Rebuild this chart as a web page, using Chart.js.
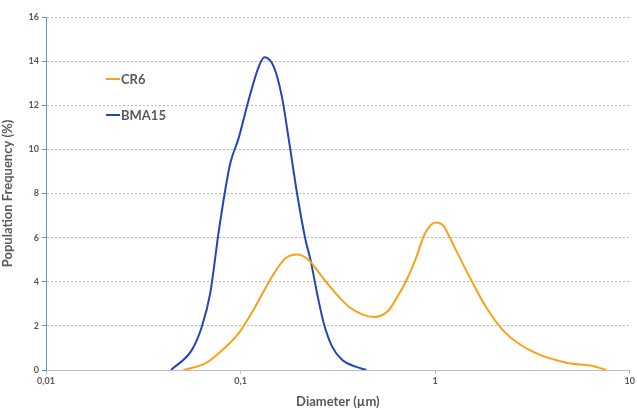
<!DOCTYPE html>
<html>
<head>
<meta charset="utf-8">
<script src="https://cdn.jsdelivr.net/npm/chart.js@4"></script>
<style>
  html, body { margin: 0; padding: 0; background: #fff; }
  #wrap { width: 637px; height: 410px; }
</style>
</head>
<body>
<div id="wrap"><canvas id="psd"></canvas></div>
<script>
// Particle size distribution data
const seriesNames = ['CR6', 'BMA15'];
const seriesColors = ['#F7A21B', '#2345B8'];

const cr6Diameter = [0.0508, 0.0658, 0.077, 0.0976, 0.119, 0.145, 0.17, 0.195, 0.224, 0.262, 0.308, 0.36, 0.422, 0.485, 0.579, 0.639, 0.706, 0.796, 0.878, 0.95, 1.008, 1.112, 1.18, 1.5, 1.82, 2.31, 3.17, 4.72, 6.47, 7.59];
const cr6Freq     = [0, 0.3, 0.75, 1.66, 2.87, 4.23, 5.06, 5.24, 4.99, 4.23, 3.47, 2.87, 2.52, 2.4, 2.72, 3.32, 4.0, 5.06, 6.12, 6.57, 6.68, 6.5, 6.05, 4.23, 2.87, 1.66, 0.83, 0.33, 0.18, 0];

const bmaDiameter = [0.0439, 0.0561, 0.0632, 0.0698, 0.077, 0.0834, 0.0885, 0.0976, 0.11, 0.124, 0.1325, 0.148, 0.163, 0.177, 0.195, 0.2156, 0.2287, 0.2473, 0.2677, 0.2955, 0.333, 0.39, 0.443];
const bmaFreq     = [0, 0.9, 1.96, 3.47, 6.2, 8.16, 9.37, 10.5, 12.24, 13.75, 14.17, 13.75, 12.39, 10.43, 8.01, 5.89, 4.99, 3.47, 2.11, 1.06, 0.45, 0.15, 0];

const xTickValues = [0.01, 0.1, 1, 10];
const xTickLabels = ['0,01', '0,1', '1', '10'];

function toPoints(xs, ys) {
    return xs.map((x, i) => ({ x: x, y: ys[i] }));
}

// Legend drawn inside the plot, like the original
const innerLegend = {
    id: 'innerLegend',
    afterDraw(chart) {
        const ctx = chart.ctx;
        const rows = [79, 115];
        ctx.save();
        ctx.font = 'bold 13px Lato, "Open Sans", sans-serif';
        ctx.textBaseline = 'middle';
        chart.data.datasets.forEach((ds, i) => {
            const y = rows[i];
            ctx.strokeStyle = ds.borderColor;
            ctx.lineWidth = 2;
            ctx.beginPath();
            ctx.moveTo(106, y);
            ctx.lineTo(120, y);
            ctx.stroke();
            ctx.fillStyle = '#595959';
            ctx.fillText(ds.label, 121, y + 1);
        });
        ctx.restore();
    }
};

const tickFont = { family: 'Lato, "Open Sans", sans-serif', size: 9, weight: 'bold' };
const titleFont = { family: 'Lato, "Open Sans", sans-serif', size: 13, weight: 'bold' };

new Chart(document.getElementById('psd'), {
    type: 'line',
    data: {
        datasets: [
            {
                label: seriesNames[0],
                data: toPoints(cr6Diameter, cr6Freq),
                borderColor: seriesColors[0],
                borderWidth: 2,
                pointRadius: 0,
                fill: false,
                cubicInterpolationMode: 'monotone'
            },
            {
                label: seriesNames[1],
                data: toPoints(bmaDiameter, bmaFreq),
                borderColor: seriesColors[1],
                borderWidth: 2,
                pointRadius: 0,
                fill: false,
                cubicInterpolationMode: 'monotone'
            }
        ]
    },
    options: {
        responsive: true,
        maintainAspectRatio: false,
        animation: false,
        layout: { padding: { top: 17, right: 7, left: 0, bottom: 0 } },
        plugins: {
            legend: { display: false },
            tooltip: { enabled: false }
        },
        scales: {
            x: {
                type: 'logarithmic',
                min: 0.01,
                max: 10,
                afterBuildTicks: scale => {
                    scale.ticks = xTickValues.map(v => ({ value: v }));
                },
                afterFit: scale => { scale.height = 40; },
                ticks: {
                    color: '#595959',
                    font: tickFont,
                    padding: 2,
                    maxRotation: 0,
                    autoSkip: false,
                    callback: function(value) {
                        const i = xTickValues.indexOf(value);
                        return i >= 0 ? xTickLabels[i] : '';
                    }
                },
                grid: {
                    drawOnChartArea: false,
                    drawTicks: true,
                    tickLength: 4,
                    color: '#bfbfbf'
                },
                border: { color: '#bfbfbf', width: 1 },
                title: {
                    display: true,
                    text: 'Diameter (µm)',
                    color: '#595959',
                    font: titleFont,
                    padding: { top: 4, bottom: 0 }
                }
            },
            y: {
                min: 0,
                max: 16,
                afterFit: scale => { scale.width = 46; },
                ticks: {
                    stepSize: 2,
                    color: '#595959',
                    font: tickFont,
                    padding: 3
                },
                grid: {
                    color: '#b8b8b8',
                    tickLength: 4,
                    tickColor: '#5b9bd5'
                },
                border: { color: '#5b9bd5', width: 1, dash: [2, 2] },
                title: {
                    display: true,
                    text: 'Population Frequency (%)',
                    color: '#595959',
                    font: titleFont,
                    padding: { top: 0, bottom: 4 }
                }
            }
        }
    },
    plugins: [innerLegend]
});
</script>
</body>
</html>
